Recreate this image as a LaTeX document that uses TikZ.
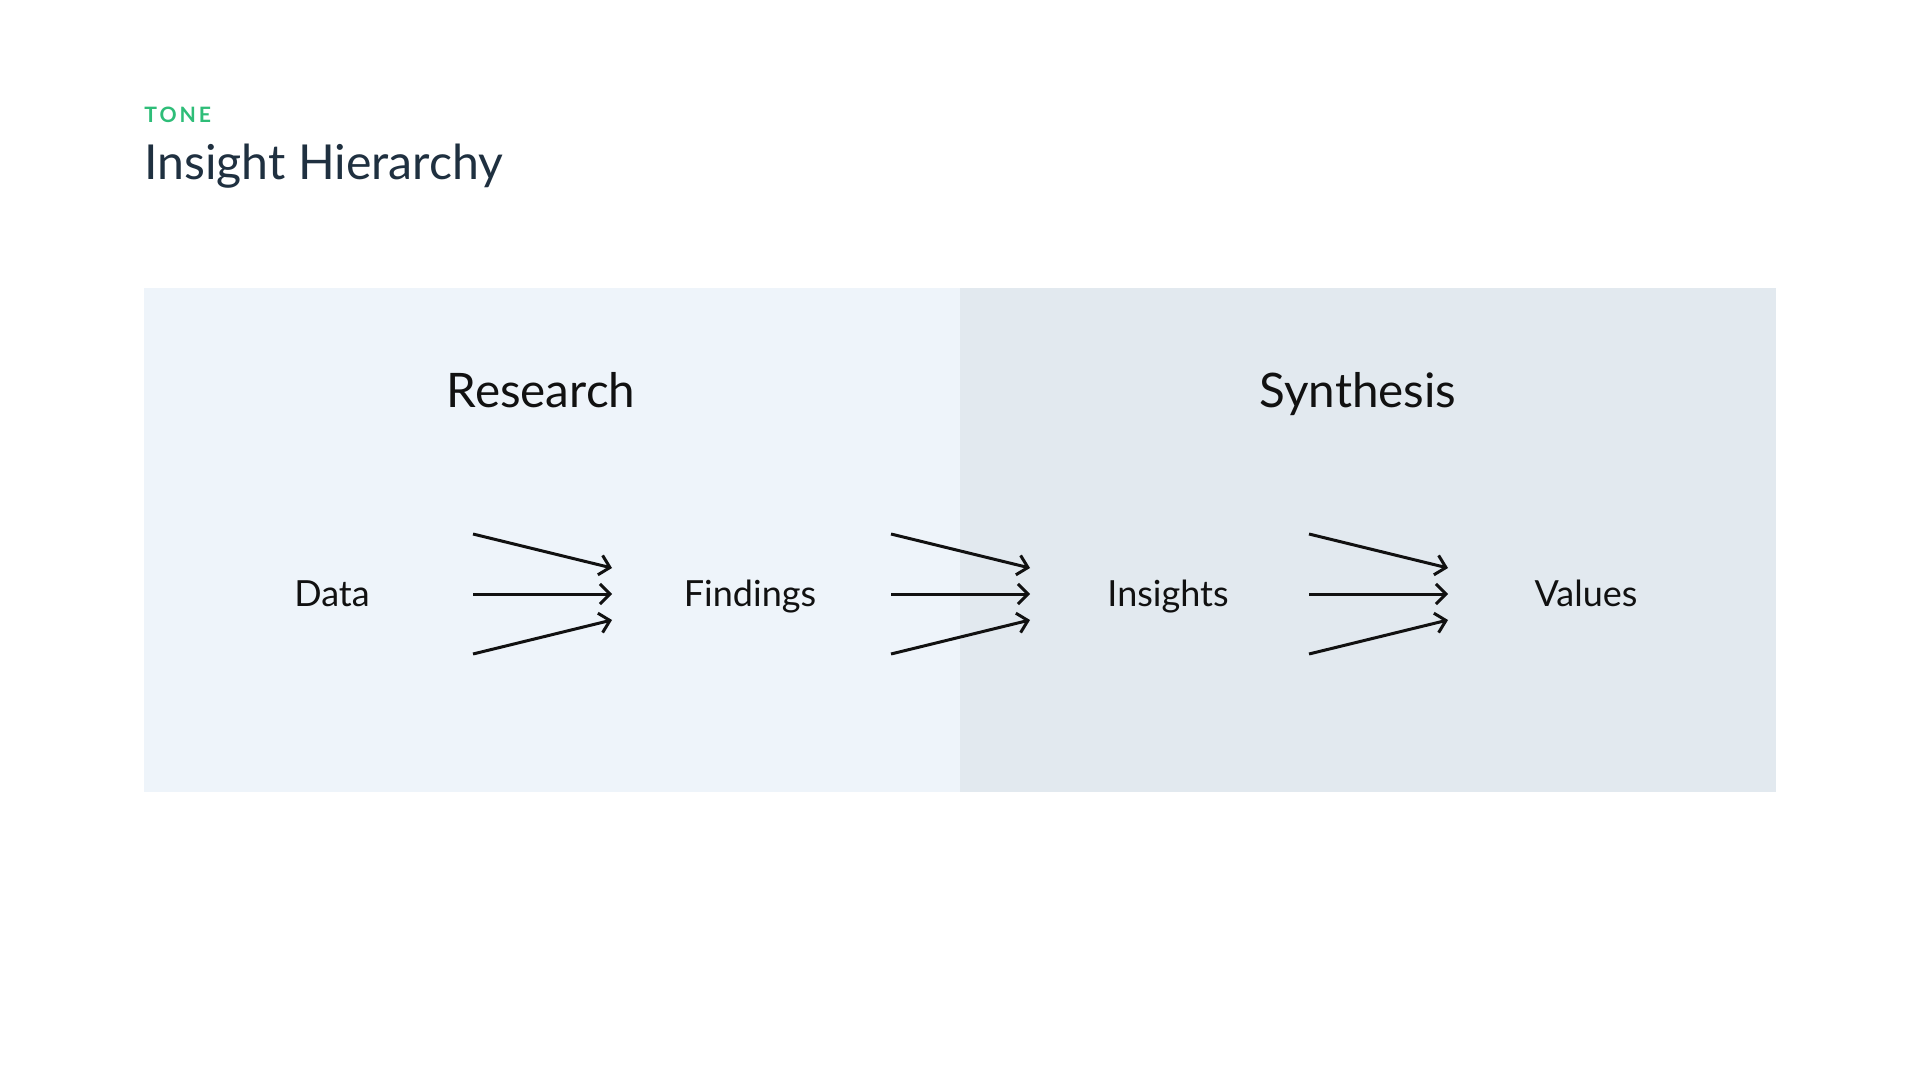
\documentclass[tikz,border=0pt]{standalone}
\usepackage{fontspec}
\setmainfont{Lato}
\usetikzlibrary{arrows.meta}
\definecolor{researchbg}{HTML}{EEF4FA}
\definecolor{synthbg}{HTML}{E2E9EF}
\definecolor{tonegreen}{HTML}{2EBD78}
\definecolor{navy}{HTML}{1F3040}
\definecolor{ink}{HTML}{111111}

\begin{document}
\begin{tikzpicture}[x=0.5pt,y=-0.5pt,
  stage/.style={inner sep=0,font=\fontsize{18}{20}\selectfont,text=ink},
  phase/.style={inner sep=0,font=\fontsize{23.8}{26}\selectfont,text=ink},
  flow/.style={-{Straight Barb[length=5pt,width=10pt]},line width=1.5pt,draw=ink}]
\useasboundingbox (0,0) rectangle (1920,1080);
\fill[researchbg] (144,288) rectangle (960,792);
\fill[synthbg] (960,288) rectangle (1776,792);
\node[inner sep=0,anchor=base west,text=tonegreen,font=\bfseries\fontsize{10.6}{12}\selectfont\addfontfeatures{LetterSpace=14}] (tone) at (144,123) {TONE};
\node[inner sep=0,anchor=base west,text=navy,font=\fontsize{24.1}{26}\selectfont] (title) at (144,180) {Insight Hierarchy};
\node[phase,anchor=base] (research) at (541,407) {Research};
\node[phase,anchor=base] (synthesis) at (1358,407) {Synthesis};
\foreach \name/\txt [count=\i from 0] in {data/Data,findings/Findings,insights/Insights,values/Values}
  \node[stage,anchor=base] (\name) at (332+418*\i,606) {\txt};
\foreach \i in {0,1,2}
  \foreach \dy/\k in {-60/1,0/2,60/3} {
    \coordinate (s\i\k) at (473+418*\i,594+\dy);
    \coordinate (e\i\k) at (612+418*\i,594+\dy*26/60);
    \draw[flow] (s\i\k) -- (e\i\k);
  }
\end{tikzpicture}
\end{document}
